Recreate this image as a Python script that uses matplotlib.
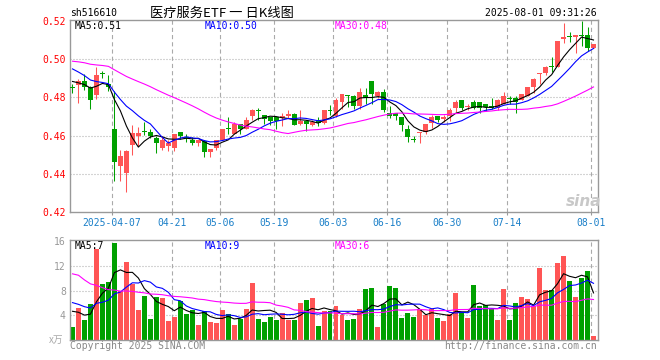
import matplotlib
matplotlib.use("Agg")
import matplotlib.pyplot as plt
import numpy as np
import pandas as pd

plt.rcParams['lines.scale_dashes'] = False

# daily candles, 2025-03-26 .. 2025-08-01 (88 trading days)
opens = [0.4852, 0.4867, 0.4884, 0.4854, 0.4812, 0.4926, 0.4872, 0.4632, 0.4442, 0.4402,
         0.4551, 0.4600, 0.4619, 0.4621, 0.4588, 0.4533, 0.4544, 0.4533, 0.4621, 0.4589,
         0.4579, 0.4558, 0.4569, 0.4512, 0.4533, 0.4574, 0.4642, 0.4609, 0.4661, 0.4635,
         0.4700, 0.4733, 0.4709, 0.4697, 0.4697, 0.4691, 0.4700, 0.4711, 0.4661, 0.4675,
         0.4653, 0.4682, 0.4665, 0.4735, 0.4705, 0.4775, 0.4814, 0.4805, 0.4753, 0.4814,
         0.4884, 0.4807, 0.4828, 0.4719, 0.4718, 0.4697, 0.4632, 0.4577, 0.4612, 0.4621,
         0.4665, 0.4700, 0.4688, 0.4702, 0.4744, 0.4784, 0.4748, 0.4777, 0.4777, 0.4763,
         0.4755, 0.4747, 0.4768, 0.4797, 0.4798, 0.4786, 0.4807, 0.4853, 0.4923, 0.4930,
         0.4963, 0.4961, 0.5109, 0.5121, 0.5119, 0.5126, 0.5128, 0.5058]
highs = [0.4872, 0.4895, 0.4925, 0.4858, 0.4961, 0.4939, 0.4916, 0.4832, 0.4526, 0.4526,
         0.4653, 0.4644, 0.4670, 0.4632, 0.4600, 0.4600, 0.4574, 0.4609, 0.4621, 0.4607,
         0.4590, 0.4577, 0.4574, 0.4530, 0.4577, 0.4632, 0.4695, 0.4670, 0.4661, 0.4695,
         0.4740, 0.4744, 0.4709, 0.4697, 0.4697, 0.4719, 0.4732, 0.4719, 0.4732, 0.4679,
         0.4679, 0.4695, 0.4732, 0.4761, 0.4796, 0.4816, 0.4814, 0.4811, 0.4851, 0.4851,
         0.4884, 0.4833, 0.4842, 0.4754, 0.4718, 0.4697, 0.4653, 0.4600, 0.4621, 0.4661,
         0.4709, 0.4700, 0.4709, 0.4744, 0.4784, 0.4784, 0.4768, 0.4786, 0.4777, 0.4763,
         0.4795, 0.4790, 0.4830, 0.4807, 0.4807, 0.4818, 0.4856, 0.4900, 0.4930, 0.4965,
         0.5014, 0.5096, 0.5189, 0.5146, 0.5128, 0.5202, 0.5168, 0.5081]
lows = [0.4825, 0.4770, 0.4840, 0.4740, 0.4790, 0.4902, 0.4832, 0.4363, 0.4363, 0.4305,
        0.4498, 0.4544, 0.4605, 0.4586, 0.4507, 0.4525, 0.4521, 0.4518, 0.4582, 0.4565,
        0.4550, 0.4545, 0.4486, 0.4486, 0.4526, 0.4574, 0.4609, 0.4609, 0.4609, 0.4632,
        0.4679, 0.4684, 0.4661, 0.4653, 0.4632, 0.4649, 0.4691, 0.4653, 0.4653, 0.4626,
        0.4649, 0.4649, 0.4661, 0.4709, 0.4698, 0.4740, 0.4749, 0.4740, 0.4740, 0.4767,
        0.4767, 0.4798, 0.4723, 0.4691, 0.4679, 0.4626, 0.4568, 0.4568, 0.4560, 0.4609,
        0.4639, 0.4670, 0.4670, 0.4674, 0.4726, 0.4732, 0.4733, 0.4737, 0.4719, 0.4730,
        0.4737, 0.4733, 0.4763, 0.4765, 0.4719, 0.4786, 0.4807, 0.4821, 0.4870, 0.4918,
        0.4935, 0.4961, 0.5084, 0.5093, 0.5035, 0.5070, 0.5046, 0.5058]
closes = [0.4850, 0.4884, 0.4854, 0.4788, 0.4918, 0.4924, 0.4854, 0.4460, 0.4491, 0.4521,
          0.4612, 0.4611, 0.4617, 0.4600, 0.4561, 0.4574, 0.4558, 0.4609, 0.4600, 0.4587,
          0.4558, 0.4575, 0.4512, 0.4530, 0.4574, 0.4632, 0.4636, 0.4661, 0.4635, 0.4684,
          0.4732, 0.4730, 0.4688, 0.4674, 0.4674, 0.4700, 0.4712, 0.4653, 0.4675, 0.4661,
          0.4670, 0.4667, 0.4732, 0.4730, 0.4784, 0.4816, 0.4805, 0.4753, 0.4828, 0.4796,
          0.4816, 0.4828, 0.4735, 0.4705, 0.4702, 0.4653, 0.4591, 0.4575, 0.4621, 0.4661,
          0.4697, 0.4684, 0.4697, 0.4732, 0.4775, 0.4744, 0.4755, 0.4742, 0.4747, 0.4751,
          0.4747, 0.4786, 0.4807, 0.4794, 0.4777, 0.4818, 0.4853, 0.4895, 0.4930, 0.4961,
          0.4958, 0.5096, 0.5119, 0.5119, 0.5128, 0.5124, 0.5058, 0.5081]
volumes = [2.05, 5.2, 3.2, 5.8, 14.7, 9.0, 9.4, 15.7, 8.0, 12.6,
           9.1, 4.8, 7.1, 3.35, 6.9, 6.75, 3.0, 3.7, 6.3, 4.15,
           4.9, 2.4, 4.65, 2.9, 2.7, 4.8, 4.15, 2.5, 3.45, 5.0,
           9.2, 3.35, 2.9, 3.7, 3.2, 4.3, 3.25, 3.2, 5.95, 6.4,
           6.75, 2.2, 4.65, 4.65, 5.45, 4.0, 3.2, 3.35, 5.1, 8.2,
           8.4, 2.05, 5.8, 8.7, 8.4, 3.5, 4.3, 3.7, 5.0, 4.0,
           5.1, 3.5, 3.0, 4.15, 7.55, 4.6, 3.5, 8.85, 5.45, 5.6,
           5.0, 3.2, 8.2, 3.2, 5.95, 6.9, 6.6, 5.55, 11.6, 8.05,
           8.05, 12.4, 13.6, 9.5, 6.9, 10.05, 11.1, 0.6]

# sessions before the window, only needed to start the moving averages
prev_close = [0.498, 0.500, 0.502, 0.503, 0.501, 0.499, 0.500, 0.502, 0.504, 0.503,
              0.501, 0.500, 0.502, 0.503, 0.501, 0.499, 0.500, 0.502, 0.501, 0.500,
              0.505, 0.504, 0.502, 0.500, 0.497, 0.492, 0.490, 0.488, 0.487]
prev_vol = [12, 26, 25, 22, 20, 19, 18, 13, 12, 11,
            9, 10, 9, 8, 9, 8, 7, 8, 7, 8,
            8, 7, 8, 7, 7.3, 6, 5.5, 5, 4.7]

tick_idx = [7, 17, 25, 34, 44, 53, 63, 73, 87]
tick_labels = ['2025-04-07', '04-21', '05-06', '05-19', '06-03', '06-16', '06-30', '07-14', '08-01']
price_ticks = [0.42, 0.44, 0.46, 0.48, 0.50, 0.52]
vol_ticks = [4, 8, 12, 16]
price_ma_text = ['MA5:0.51', 'MA10:0.50', 'MA30:0.48']
vol_ma_text = ['MA5:7', 'MA10:9', 'MA30:6']

RED = '#ff5555'
GREEN = '#00a000'
MA_COLORS = ['black', '#0000ff', '#ff00ff']
GRIDC = '#aaaaaa'
MONO = 'DejaVu Sans Mono'

O = np.array(opens); H = np.array(highs); L = np.array(lows); C = np.array(closes)
V = np.array(volumes)
n = len(C)
x = np.arange(n)
colors = np.where(C >= O, RED, GREEN)

full_c = pd.Series(prev_close + closes)
full_v = pd.Series(prev_vol + volumes)
k = len(prev_close)

fig = plt.figure(figsize=(6.6, 3.6), dpi=100)
ax = fig.add_axes([70/660, 148/360, 528/660, 192/360])
axv = fig.add_axes([70/660, 20/360, 528/660, 100/360])

for a in (ax, axv):
    for s in a.spines.values():
        s.set_color('#999999')
        s.set_linewidth(1)
    a.set_xlim(-0.417, n - 0.25)
    for t in tick_idx:
        a.axvline(t - 0.42, color=GRIDC, lw=0.8, dashes=(3, 2.2), zorder=0)

for y in price_ticks[1:-1]:
    ax.axhline(y, color=GRIDC, lw=0.8, dashes=(0.72, 1.44), zorder=0)
for y in vol_ticks[:-1]:
    axv.axhline(y, color=GRIDC, lw=0.8, dashes=(0.72, 1.44), zorder=0)

# candles
ax.vlines(x, L, H, color=colors, lw=0.75, zorder=2)
body = np.maximum(np.abs(C - O), 0.0005)
ax.bar(x, body, bottom=np.minimum(O, C), width=0.83, color=colors, linewidth=0, zorder=3)

for w, c in zip([5, 10, 30], MA_COLORS):
    ma = full_c.rolling(w).mean().values[k:]
    ax.plot(x, ma, color=c, lw=0.8, zorder=4)
    mv = full_v.rolling(w).mean().values[k:]
    axv.plot(x, mv, color=c, lw=0.8, zorder=4)

axv.bar(x, V, width=0.83, color=colors, linewidth=0, zorder=2)

ax.set_ylim(0.4198, 0.5207)
axv.set_ylim(0, 16.2)

ax.set_xticks([t - 0.42 for t in tick_idx])
ax.set_xticklabels(tick_labels, color='#1a7fc8', fontsize=7, family=MONO)
ax.tick_params(axis='x', length=2, color='#999999', pad=2)
ax.set_yticks(price_ticks)
ax.set_yticklabels(['%.2f' % p for p in price_ticks], color='red', fontsize=7, family=MONO)
ax.tick_params(axis='y', length=0, pad=3)

axv.set_xticks([])
axv.set_yticks(vol_ticks)
axv.set_yticklabels([str(v) for v in vol_ticks], color='#999999', fontsize=7, family=MONO)
axv.tick_params(axis='y', length=0, pad=3)

def px(xp, yp, s, **kw):
    fig.text(xp/660, 1 - yp/360, s, **kw)

for xp, s, c in zip([75, 205, 335], price_ma_text, MA_COLORS):
    px(xp, 26, s, color=c, fontsize=7, family=MONO, va='center')
for xp, s, c in zip([75, 205, 335], vol_ma_text, MA_COLORS):
    px(xp, 246, s, color=c, fontsize=7, family=MONO, va='center')

px(70, 13, 'sh516610', fontsize=7, family=MONO, va='center')
px(150, 13, '医疗服务ETF 一 日K线图', fontsize=9.5, family=['Noto Sans CJK SC', 'DejaVu Sans'], va='center')
px(597, 13, '2025-08-01 09:31:26', fontsize=7, family=MONO, va='center', ha='right')
px(70, 346, 'Copyright 2025 SINA.COM', fontsize=7, family=MONO, va='center', color='#888888')
px(597, 346, 'http://finance.sina.com.cn', fontsize=7, family=MONO, va='center', ha='right', color='#888888')
px(49, 340, 'x万', fontsize=7, family=['Noto Sans CJK SC', 'DejaVu Sans'], va='center', color='#aaaaaa')
px(566, 201, 'sina', fontsize=11, style='italic', weight='bold', color='#c8c8c8', va='center')

fig.savefig('out.png', dpi=100)
